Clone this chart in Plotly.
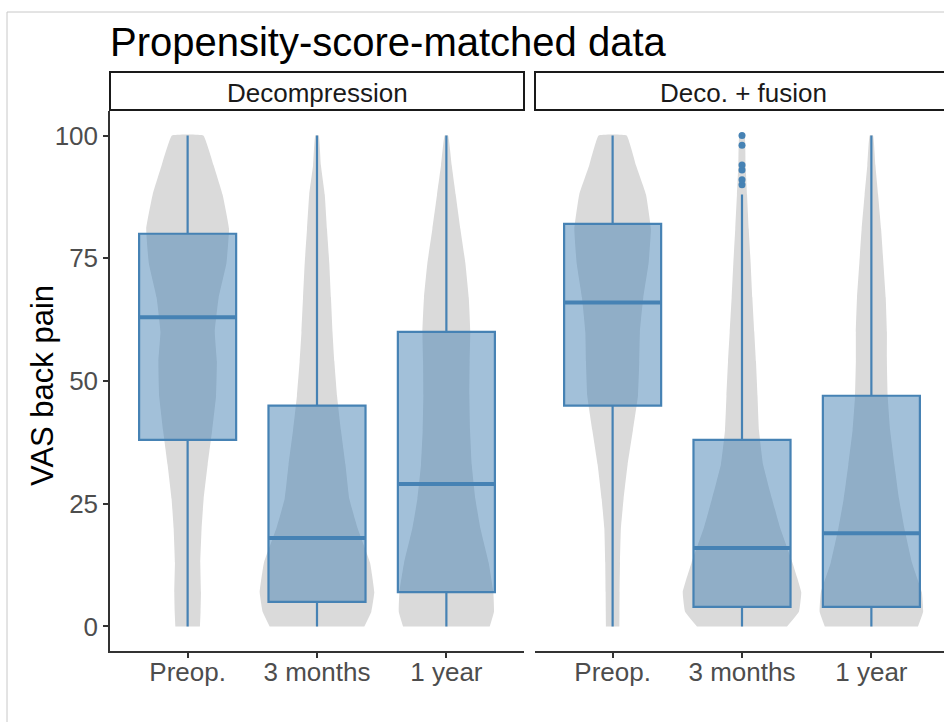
import plotly.graph_objects as go

# ---------------- data ----------------
categories = ["Preop.", "3 months", "1 year"]
panels = ["Decompression", "Deco. + fusion"]

# box statistics per panel (Preop., 3 months, 1 year)
dec_q1 = [38, 5, 7]
dec_median = [63, 18, 29]
dec_q3 = [80, 45, 60]
dec_low = [0, 0, 0]
dec_high = [100, 100, 100]

fus_q1 = [45, 4, 4]
fus_median = [66, 16, 19]
fus_q3 = [82, 38, 47]
fus_low = [0, 0, 0]
fus_high = [100, 88, 100]

# outliers (Deco. + fusion, 3 months)
fus_3m_outliers = [90, 91, 93, 94, 98, 100]

# violin density profiles: half-width (category units) at each VAS level
levels = [0, 3, 7, 13, 20, 26, 33, 40, 47, 54, 60, 67, 74, 81, 88, 94, 100]
dec_preop_w = [0.095, 0.10, 0.103, 0.098, 0.108, 0.124, 0.155, 0.19, 0.22, 0.226, 0.21, 0.24, 0.30, 0.32, 0.27, 0.20, 0.121]
dec_3m_w = [0.366, 0.42, 0.443, 0.41, 0.314, 0.25, 0.22, 0.185, 0.155, 0.134, 0.12, 0.108, 0.095, 0.077, 0.06, 0.03, 0.013]
dec_1y_w = [0.335, 0.368, 0.363, 0.327, 0.263, 0.224, 0.196, 0.183, 0.178, 0.18, 0.185, 0.173, 0.147, 0.108, 0.072, 0.041, 0.013]
fus_preop_w = [0.052, 0.053, 0.054, 0.057, 0.064, 0.085, 0.116, 0.157, 0.196, 0.206, 0.211, 0.237, 0.278, 0.296, 0.258, 0.18, 0.108]
fus_3m_w = [0.348, 0.44, 0.458, 0.39, 0.296, 0.232, 0.163, 0.131, 0.12, 0.108, 0.095, 0.08, 0.067, 0.052, 0.039, 0.028, 0.02]
fus_1y_w = [0.36, 0.40, 0.39, 0.314, 0.255, 0.214, 0.178, 0.145, 0.126, 0.12, 0.12, 0.111, 0.093, 0.075, 0.052, 0.031, 0.013]

y_ticks = [0, 25, 50, 75, 100]

# ---------------- style ----------------
STEEL = "#4682B4"
BOX_FILL = "rgba(70,130,180,0.5)"
VIOLIN = "#DADADA"
FONT = "Liberation Sans, Arial, sans-serif"

W, H = 944, 722
L, R, T, B = 110, 0, 111, 71
plot_w = W - L - R
plot_h = H - T - B
PX_PER_CAT = 414 / 3.2


def px_x(p):
    return (p - L) / plot_w


def px_y(p):
    return (H - B - p) / plot_h


fig = go.Figure()

positions = [1, 2, 3]
violin_sets = [
    ("x", [dec_preop_w, dec_3m_w, dec_1y_w]),
    ("x2", [fus_preop_w, fus_3m_w, fus_1y_w]),
]
for xa, widths in violin_sets:
    for pos, w in zip(positions, widths):
        xs = [pos - v for v in w] + [pos + v for v in reversed(w)]
        ys = list(levels) + list(reversed(levels))
        fig.add_trace(go.Scatter(
            x=xs, y=ys, xaxis=xa, yaxis="y", mode="lines",
            fill="toself", fillcolor=VIOLIN,
            line=dict(width=0, color=VIOLIN, shape="spline", smoothing=0.3),
            hoverinfo="skip", showlegend=False))

# boxes drawn on overlay axes so they sit above the violins
box_sets = [
    ("x3", dec_q1, dec_median, dec_q3, dec_low, dec_high),
    ("x4", fus_q1, fus_median, fus_q3, fus_low, fus_high),
]
for xa, q1, med, q3, lo, hi in box_sets:
    fig.add_trace(go.Box(
        x=positions, q1=q1, median=med, q3=q3, lowerfence=lo, upperfence=hi,
        xaxis=xa, yaxis="y2", width=0.75, whiskerwidth=0,
        fillcolor=BOX_FILL, line=dict(color=STEEL, width=2.2),
        boxpoints=False, showlegend=False))
    # thicker median line
    fig.add_trace(go.Box(
        x=positions, q1=med, median=med, q3=med, lowerfence=med, upperfence=med,
        xaxis=xa, yaxis="y2", width=0.75, whiskerwidth=0,
        fillcolor="rgba(0,0,0,0)", line=dict(color=STEEL, width=4),
        boxpoints=False, showlegend=False, hoverinfo="skip"))

fig.add_trace(go.Scatter(
    x=[2] * len(fus_3m_outliers), y=fus_3m_outliers, xaxis="x4", yaxis="y2",
    mode="markers", marker=dict(color=STEEL, size=7),
    showlegend=False))

range1 = [0.4, 3.6]
range2 = [0.4, 0.4 + (W - 535) / PX_PER_CAT]
axis_common = dict(
    tickvals=positions, ticktext=categories,
    showgrid=False, zeroline=False, showline=True, linecolor="#333333", linewidth=1.5,
    ticks="outside", ticklen=5, tickwidth=1.5, tickcolor="#333333",
    tickfont=dict(family=FONT, size=26, color="#4D4D4D"),
    ticklabelstandoff=-8,
)
d1 = px_x(524)
d2 = px_x(535)
yrange = [-5, 105]
fig.update_layout(
    width=W, height=H,
    margin=dict(l=L, r=R, t=T, b=B),
    paper_bgcolor="white", plot_bgcolor="white",
    boxmode="overlay",
    xaxis=dict(domain=[0, d1], anchor="y", range=range1, **axis_common),
    xaxis2=dict(domain=[d2, 1], anchor="y", range=range2, **axis_common),
    xaxis3=dict(overlaying="x", anchor="y2", range=range1, visible=False),
    xaxis4=dict(overlaying="x2", anchor="y2", range=range2, visible=False),
    yaxis=dict(range=yrange, tickvals=y_ticks, showgrid=False, zeroline=False,
               showline=True, linecolor="#333333", linewidth=1.5,
               ticks="outside", ticklen=5, tickwidth=1.5, tickcolor="#333333",
               tickfont=dict(family=FONT, size=26, color="#4D4D4D")),
    yaxis2=dict(overlaying="y", anchor="x3", range=yrange, visible=False),
    title=dict(text="Propensity-score-matched data", x=L / W,
               xanchor="left", xref="container", y=1 - 42 / H, yanchor="middle",
               yref="container", font=dict(family=FONT, size=40, color="black")),
    showlegend=False,
)

shapes = []
annotations = []
for xa, name, x1 in [("x", panels[0], 1), ("x2", panels[1], 1.05)]:
    shapes.append(dict(type="rect", xref=f"{xa} domain", yref="paper",
                       x0=0, x1=x1, y0=px_y(110), y1=px_y(72),
                       line=dict(color="#1A1A1A", width=2), fillcolor="white"))
    cx = 0.5 if xa == "x" else (743 - 535) / (W - 535)
    annotations.append(dict(text=name, xref=f"{xa} domain", yref="paper",
                            x=cx, y=px_y(93), xanchor="center", yanchor="middle",
                            showarrow=False,
                            font=dict(family=FONT, size=26, color="#1A1A1A")))
# outer frame line of the figure image
shapes.append(dict(type="rect", xref="paper", yref="paper",
                   x0=px_x(7), x1=1.1, y0=px_y(H + 5), y1=px_y(12),
                   line=dict(color="#C8C8C8", width=1), fillcolor="rgba(0,0,0,0)",
                   layer="below"))
annotations.append(dict(text="VAS back pain", xref="paper", yref="paper",
                        x=px_x(42), y=px_y(386), textangle=-90, showarrow=False,
                        xanchor="center", yanchor="middle",
                        font=dict(family=FONT, size=31, color="black")))
fig.update_layout(shapes=shapes, annotations=annotations)

fig.write_html("out.html", config={"displayModeBar": False},
               post_script="document.body.style.margin='0';")
